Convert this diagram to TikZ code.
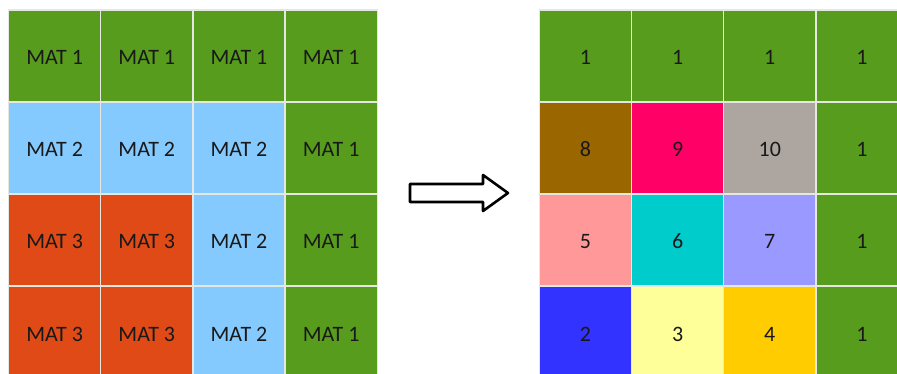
\documentclass[tikz,border=0pt]{standalone}
\usepackage{fontspec}
\setmainfont{Carlito}
\definecolor{matgreen}{HTML}{589C1D}
\definecolor{matblue}{HTML}{85CAFF}
\definecolor{matorange}{HTML}{DF4A16}
\definecolor{cbrown}{HTML}{996600}
\definecolor{cpink}{HTML}{FF0066}
\definecolor{cgray}{HTML}{ADA59F}
\definecolor{csalmon}{HTML}{FF9999}
\definecolor{ccyan}{HTML}{00CCCC}
\definecolor{clav}{HTML}{9999FF}
\definecolor{cblue}{HTML}{3333FF}
\definecolor{cyellow}{HTML}{FFFF99}
\definecolor{cgold}{HTML}{FFCC00}
\definecolor{gridline}{HTML}{E4E8E0}
\newcommand\cellnode[5]{\node[cellst, fill=#4] (#1) at (#2,#3) {#5};}
\begin{document}
\begin{tikzpicture}[x=1pt,y=-1pt,
  cellst/.style={draw=gridline, line width=1.5pt, minimum width=92.2pt, minimum height=92pt,
    inner sep=0pt, text height=18pt, text depth=0pt,
    font=\fontsize{22}{24}\selectfont, text=black!90, anchor=center},
  arrowst/.style={draw=black, line width=2.6pt, fill=white, line join=round}]
\useasboundingbox (0,0) rectangle (897,374);
\clip (0,0) rectangle (897,374);
% left grid
\cellnode{L11}{54.6}{56}{matgreen}{MAT 1}
\cellnode{L12}{146.8}{56}{matgreen}{MAT 1}
\cellnode{L13}{239}{56}{matgreen}{MAT 1}
\cellnode{L14}{331.2}{56}{matgreen}{MAT 1}
\cellnode{L21}{54.6}{148}{matblue}{MAT 2}
\cellnode{L22}{146.8}{148}{matblue}{MAT 2}
\cellnode{L23}{239}{148}{matblue}{MAT 2}
\cellnode{L24}{331.2}{148}{matgreen}{MAT 1}
\cellnode{L31}{54.6}{240}{matorange}{MAT 3}
\cellnode{L32}{146.8}{240}{matorange}{MAT 3}
\cellnode{L33}{239}{240}{matblue}{MAT 2}
\cellnode{L34}{331.2}{240}{matgreen}{MAT 1}
\cellnode{L41}{54.6}{332}{matorange}{MAT 3}
\cellnode{L42}{146.8}{332}{matorange}{MAT 3}
\cellnode{L43}{239}{332}{matblue}{MAT 2}
\cellnode{L44}{331.2}{332}{matgreen}{MAT 1}
% right grid
\cellnode{R11}{585.4}{56}{matgreen}{1}
\cellnode{R12}{677.6}{56}{matgreen}{1}
\cellnode{R13}{769.8}{56}{matgreen}{1}
\cellnode{R14}{862}{56}{matgreen}{1}
\cellnode{R21}{585.4}{148}{cbrown}{8}
\cellnode{R22}{677.6}{148}{cpink}{9}
\cellnode{R23}{769.8}{148}{cgray}{10}
\cellnode{R24}{862}{148}{matgreen}{1}
\cellnode{R31}{585.4}{240}{csalmon}{5}
\cellnode{R32}{677.6}{240}{ccyan}{6}
\cellnode{R33}{769.8}{240}{clav}{7}
\cellnode{R34}{862}{240}{matgreen}{1}
\cellnode{R41}{585.4}{332}{cblue}{2}
\cellnode{R42}{677.6}{332}{cyellow}{3}
\cellnode{R43}{769.8}{332}{cgold}{4}
\cellnode{R44}{862}{332}{matgreen}{1}
% block arrow
\draw[arrowst] (410,184) -- (483,184) -- (483,175) -- (508,193) -- (483,211)
  -- (483,202) -- (410,202) -- cycle;
\end{tikzpicture}
\end{document}
